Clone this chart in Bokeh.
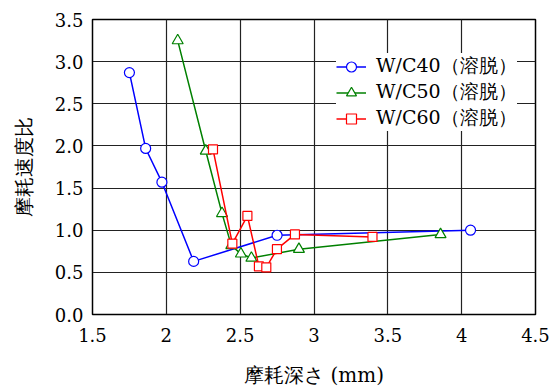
from bokeh.plotting import figure
from bokeh.models import Range1d, FixedTicker, Legend, LegendItem
from bokeh.embed import file_html
from bokeh.resources import INLINE

# W/C40 (leached)
x40 = [1.75, 1.86, 1.97, 2.185, 2.75, 4.06]
y40 = [2.87, 1.97, 1.57, 0.63, 0.94, 1.00]
# W/C50 (leached)
x50 = [2.077, 2.267, 2.377, 2.44, 2.505, 2.576, 2.898, 3.857]
y50 = [3.25, 1.94, 1.20, 0.82, 0.72, 0.67, 0.775, 0.95]
# W/C60 (leached)
x60 = [2.316, 2.447, 2.549, 2.627, 2.677, 2.749, 2.871, 3.396]
y60 = [1.96, 0.84, 1.17, 0.57, 0.56, 0.775, 0.95, 0.92]

labels = ["W/C40（溶脱）", "W/C50（溶脱）", "W/C60（溶脱）"]
xticks = [1.5, 2, 2.5, 3, 3.5, 4, 4.5]
yticks = [0.0, 0.5, 1.0, 1.5, 2.0, 2.5, 3.0, 3.5]
xlabel = "摩耗深さ (mm)"
ylabel = "摩耗速度比"

FONT = "DejaVu Serif"

p = figure(width=558, height=389, output_backend="svg", toolbar_location=None,
           x_range=Range1d(1.5, 4.5), y_range=Range1d(0, 3.5),
           min_border_left=92, min_border_right=23, min_border_top=19, min_border_bottom=75)
p.background_fill_color = "white"
p.border_fill_color = "white"
p.outline_line_color = "black"
p.outline_line_width = 1.5

p.xaxis.ticker = FixedTicker(ticks=xticks)
p.yaxis.ticker = FixedTicker(ticks=yticks)
p.xaxis.major_label_overrides = {1.5: "1.5", 2: "2", 2.5: "2.5", 3: "3", 3.5: "3.5", 4: "4", 4.5: "4.5"}
p.yaxis.major_label_overrides = {v: f"{v:.1f}" for v in yticks}
for ax in (p.xaxis, p.yaxis):
    ax.major_tick_line_color = None
    ax.minor_tick_line_color = None
    ax.major_tick_out = 0
    ax.major_tick_in = 0
    ax.axis_line_color = "black"
    ax.major_label_text_font = FONT
    ax.major_label_text_font_size = "18px"
    ax.major_label_text_color = "black"
    ax.axis_label_text_font = FONT
    ax.axis_label_text_font_size = "20px"
    ax.axis_label_text_font_style = "normal"
    ax.axis_label_text_color = "black"
p.xaxis.axis_label = xlabel
p.yaxis.axis_label = ylabel
p.xaxis.major_label_standoff = 13
p.yaxis.major_label_standoff = 9
p.xaxis.axis_label_standoff = 18
p.yaxis.axis_label_standoff = 16

p.xgrid.ticker = FixedTicker(ticks=xticks)
p.ygrid.ticker = FixedTicker(ticks=yticks)
p.grid.grid_line_color = "#222222"
p.grid.grid_line_width = 1.2

l40 = p.line(x40, y40, line_color="#0000ff", line_width=1.5)
s40 = p.scatter(x40, y40, marker="circle", size=10, line_color="#0000ff", fill_color="white", line_width=1.2)
l50 = p.line(x50, y50, line_color="#008000", line_width=1.5)
s50 = p.scatter(x50, y50, marker="triangle", size=11, line_color="#008000", fill_color="white", line_width=1.2)
l60 = p.line(x60, y60, line_color="#ff0000", line_width=1.5)
s60 = p.scatter(x60, y60, marker="square", size=9, line_color="#ff0000", fill_color="white", line_width=1.2)

legend = Legend(items=[
    LegendItem(label=labels[0], renderers=[l40, s40]),
    LegendItem(label=labels[1], renderers=[l50, s50]),
    LegendItem(label=labels[2], renderers=[l60, s60]),
], location=(244, 183))
legend.label_text_font = FONT
legend.label_text_font_size = "19px"
legend.label_text_color = "black"
legend.border_line_color = None
legend.background_fill_color = "white"
legend.background_fill_alpha = 1.0
legend.margin = 0
legend.padding = 5
legend.spacing = -2
legend.glyph_width = 30
legend.glyph_height = 25
legend.label_height = 25
legend.label_standoff = 10
p.add_layout(legend, "center")

open("out.html", "w").write(file_html(p, INLINE))
